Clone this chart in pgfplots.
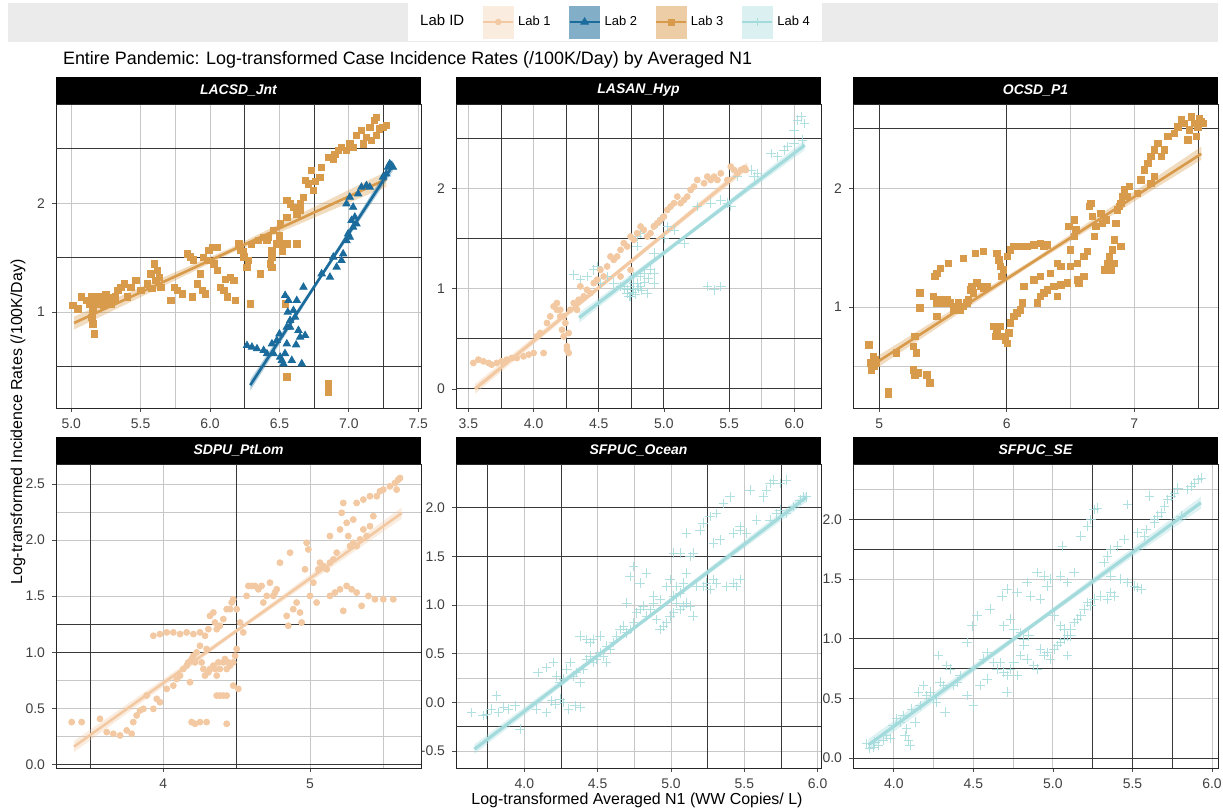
\documentclass[border=0pt]{standalone}
\usepackage{fontspec}
\setmainfont{Liberation Sans}
\usepackage{pgfplots}
\pgfplotsset{compat=1.18}
\definecolor{labA}{HTML}{F2C9A2}
\definecolor{labB}{HTML}{1B6C9C}
\definecolor{labC}{HTML}{D89A4B}
\definecolor{labD}{HTML}{A3DADC}
\pgfkeys{/pgf/number format/assume math mode=true}
\pgfplotsset{
  panel/.style={
    scale only axis, width=182.5bp, height=152bp, anchor=north west,
    axis line style={black!85, line width=0.5pt},
    tick align=outside, tick pos=left,
    major tick length=2bp, minor tick length=0pt,
    tick style={black!70, line width=0.4pt},
    ticklabel style={font=\fontsize{7}{8}\selectfont, text=black!75},
    xmajorgrids, ymajorgrids, xminorgrids, yminorgrids,
    major grid style={black!22, line width=0.45pt},
    minor grid style={black!22, line width=0.45pt},
    extra tick style={grid=major, major grid style={black!78, line width=0.45pt}, major tick length=0pt},
    extra x tick labels={}, extra y tick labels={},
    every axis title/.style={at={(0.5,1)}, anchor=south, fill=black, text=white,
      inner sep=0pt, minimum width=182.5bp, minimum height=13.5bp,
      font=\fontsize{7}{8}\selectfont\bfseries\itshape},
  },
  dx/.style={x tick label style={/pgf/number format/fixed, /pgf/number format/fixed zerofill, /pgf/number format/precision=1}},
  dy/.style={y tick label style={/pgf/number format/fixed, /pgf/number format/fixed zerofill, /pgf/number format/precision=1}},
  pA/.style={only marks, mark=*, mark size=1.5bp, color=labA, forget plot},
  pB/.style={only marks, mark=triangle*, mark size=2.1bp, color=labB, forget plot},
  pC/.style={only marks, mark=square*, mark size=1.6bp, color=labC, forget plot},
  pD/.style={only marks, mark=+, mark size=2.4bp, color=labD, line width=0.35pt, opacity=0.85, forget plot},
  rib/.style={draw=none, fill=#1, fill opacity=0.35, forget plot},
  fit/.style={color=#1, line width=1.3bp, forget plot},
}
\begin{document}
\begin{tikzpicture}
\useasboundingbox (0,0) rectangle (611.5bp,-405.5bp);
\fill[black!8] (4bp,-1.5bp) rectangle (609bp,-21bp);
\node[anchor=west, font=\fontsize{9}{11}\selectfont] at (28bp,-30bp) {Entire Pandemic: Log-transformed Case Incidence Rates (/100K/Day) by Averaged N1};
\node[rotate=90, font=\fontsize{8}{10}\selectfont] at (9bp,-211bp) {Log-transformed Incidence Rates (/100K/Day)};
\node[font=\fontsize{8}{10}\selectfont] at (318.5bp,-400bp) {Log-transformed Averaged N1 (WW Copies/ L)};

% ---------------- Panel 1: LACSD_Jnt
\begin{axis}[panel, dx, at={(28bp,-52bp)}, xmin=4.89, xmax=7.52, ymin=0.12, ymax=2.91,
  xtick={5,5.5,6,6.5,7,7.5}, ytick={1,2}, minor xtick={5.75}, minor ytick={},
  extra x ticks={6.25,6.75,7.25}, extra y ticks={0.5,1.5,2.5}, title={LACSD\_Jnt},
  legend columns=5,
  legend style={at={(1.5315,1.2697)}, anchor=center, draw=none, fill=white,
    inner xsep=4bp, inner ysep=1.5bp, font=\fontsize{6.5}{8}\selectfont,
    /tikz/every even column/.append style={column sep=7bp}},
  legend cell align=left]
\addplot[pC] coordinates {
(5.012,1.061)(5.048,1.031)(5.072,1.138)(5.108,1.107)(5.131,1.076)(5.143,1.138)(5.155,1.015)(5.155,0.893)
(5.167,0.801)(5.179,1.076)(5.191,1.138)(5.215,1.107)(5.239,1.138)(5.263,1.107)(5.287,1.076)(5.311,1.107)
(5.335,1.199)(5.358,1.229)(5.382,1.260)(5.406,1.138)(5.430,1.229)(5.466,1.291)(5.502,1.199)(5.550,1.260)
(5.573,1.352)(5.597,1.443)(5.609,1.291)(5.621,1.382)(5.633,1.321)(5.645,1.229)(5.717,1.107)(5.741,1.229)
(5.765,1.199)(5.800,1.168)(5.836,1.535)(5.860,1.505)(5.872,1.138)(5.908,1.260)(5.932,1.352)(5.944,1.199)
(5.968,1.168)(5.980,1.474)(5.992,1.566)(6.016,1.596)(6.027,1.443)(6.051,1.382)(6.051,1.596)(6.075,1.229)
(6.099,1.199)(6.123,1.138)(6.147,1.321)(6.171,1.291)(6.183,1.107)(6.207,1.627)(6.219,1.566)(6.243,1.505)
(6.266,1.413)(6.278,1.474)(6.290,1.076)(6.350,1.657)(6.362,1.352)(6.386,1.688)(6.410,1.657)(6.422,1.688)
(6.434,1.443)(6.446,1.566)(6.458,1.749)(6.481,1.627)(6.505,1.810)(6.529,1.627)(6.553,1.872)(6.553,2.024)
(6.577,1.994)(6.601,1.963)(6.625,1.902)(6.649,1.933)(6.673,2.055)(6.685,2.208)(6.708,2.177)(6.732,2.300)
(6.744,2.116)(6.792,2.239)(6.804,2.330)(6.852,2.422)(6.888,2.407)(6.924,2.483)(6.947,2.514)(6.983,2.483)
(7.007,2.544)(7.031,2.514)(7.055,2.621)(7.091,2.667)(7.103,2.544)(7.127,2.606)(7.151,2.697)(7.163,2.575)
(7.186,2.758)(7.198,2.789)(7.222,2.682)(7.246,2.697)(7.270,2.713)(6.553,0.404)(6.852,0.343)(6.852,0.266)
(6.541,1.076)(6.553,1.627)(6.625,1.627)(6.446,1.505)(6.446,1.413)(5.200,1.090)(5.230,1.060)(5.270,1.130)
(5.150,0.950)(5.160,1.050)(5.250,1.160)(5.320,1.140)(5.580,1.220)(5.880,1.480)(5.950,1.500)(6.110,1.300)
(6.240,1.560)(6.300,1.620)(6.500,1.700)(6.520,1.560)(6.650,2.000)(6.760,2.200)(6.900,2.450)(7.200,2.620)
};
\addplot[pB] coordinates {
(6.266,0.694)(6.302,0.679)(6.338,0.664)(6.386,0.648)(6.410,0.618)(6.446,0.709)(6.458,0.618)(6.481,0.740)
(6.505,0.587)(6.517,0.557)(6.529,0.526)(6.541,1.153)(6.553,0.709)(6.565,1.107)(6.577,0.862)(6.589,0.557)
(6.601,1.015)(6.613,0.954)(6.625,1.107)(6.637,0.832)(6.649,0.771)(6.661,0.526)(6.673,1.229)(6.685,0.786)
(6.553,0.862)(6.577,0.924)(6.804,1.352)(6.864,1.321)(6.888,1.505)(6.912,1.413)(6.947,1.474)(6.959,1.535)
(6.983,1.657)(6.995,1.719)(7.007,1.688)(7.019,1.841)(7.031,1.780)(7.043,1.872)(7.055,1.810)(6.983,1.994)
(7.007,2.055)(7.031,1.963)(7.067,2.086)(7.091,2.147)(7.127,2.162)(7.151,2.147)(7.246,2.239)(7.270,2.269)
(7.282,2.330)(7.294,2.361)(7.306,2.346)(7.318,2.330)(6.500,0.800)(6.560,1.000)(6.620,0.700)(6.540,0.620)
};
\addplot[rib=labC] coordinates {(5.02,0.96)(6.15,1.59)(7.27,2.29)(7.27,2.15)(6.15,1.54)(5.02,0.84)} -- cycle;
\addplot[fit=labC] coordinates {(5.02,0.90)(7.27,2.22)};
\addplot[rib=labB] coordinates {(6.29,0.38)(6.80,1.35)(7.32,2.40)(7.32,2.30)(6.80,1.31)(6.29,0.28)} -- cycle;
\addplot[fit=labB] coordinates {(6.29,0.33)(7.32,2.35)};
\addlegendimage{empty legend}
\addlegendentry{\fontsize{7.5}{9}\selectfont Lab ID}
\addlegendimage{legend image code/.code={
  \fill[labA!35] (0bp,-8bp) rectangle (15bp,8bp);
  \draw[labA, line width=1pt] (0bp,0bp) -- (15bp,0bp);
  \fill[labA] (7.5bp,0bp) circle (1.4bp);}}
\addlegendentry{Lab 1}
\addlegendimage{legend image code/.code={
  \fill[labB!55] (0bp,-8bp) rectangle (15bp,8bp);
  \draw[labB, line width=1pt] (0bp,0bp) -- (15bp,0bp);
  \fill[labB] (7.5bp,2.1bp) -- (5.6bp,-1.05bp) -- (9.4bp,-1.05bp) -- cycle;}}
\addlegendentry{Lab 2}
\addlegendimage{legend image code/.code={
  \fill[labC!50] (0bp,-8bp) rectangle (15bp,8bp);
  \draw[labC, line width=1pt] (0bp,0bp) -- (15bp,0bp);
  \fill[labC] (6bp,-1.5bp) rectangle (9bp,1.5bp);}}
\addlegendentry{Lab 3}
\addlegendimage{legend image code/.code={
  \fill[labD!40] (0bp,-8bp) rectangle (15bp,8bp);
  \draw[labD, line width=1pt] (0bp,0bp) -- (15bp,0bp);
  \draw[labD, line width=0.4pt] (5.5bp,0bp) -- (9.5bp,0bp) (7.5bp,-2bp) -- (7.5bp,2bp);}}
\addlegendentry{Lab 4}
\end{axis}

% ---------------- Panel 2: LASAN_Hyp
\begin{axis}[panel, dx, at={(228bp,-52bp)}, xmin=3.405, xmax=6.205, ymin=-0.19, ymax=2.84,
  xtick={3.5,4,4.5,5,5.5,6}, ytick={0,1,2}, minor xtick={5.75}, minor ytick={},
  extra x ticks={3.75,4.25,4.5,4.75,5,5.5}, extra y ticks={0,0.5,1.5,2.5}, title={LASAN\_Hyp}]
\addplot[pD] coordinates {
(4.308,1.138)(4.359,1.088)(4.410,1.121)(4.462,1.187)(4.487,1.221)(4.513,1.055)(4.564,1.121)(4.615,1.055)
(4.667,1.022)(4.718,0.955)(4.744,0.922)(4.769,0.988)(4.795,1.055)(4.821,1.121)(4.846,1.154)(4.897,1.187)
(4.923,1.154)(4.769,1.121)(4.795,1.519)(4.821,1.552)(4.949,1.652)(4.974,1.685)(5.026,1.619)(5.077,1.585)
(5.154,1.453)(5.256,1.818)(5.359,1.851)(5.436,1.884)(5.487,1.851)(5.513,1.818)(5.564,2.116)(5.667,2.182)
(5.718,2.149)(5.872,2.315)(5.949,2.415)(6.000,2.580)(6.026,2.680)(6.051,2.713)(6.077,2.647)(6.064,2.481)
(6.000,2.448)(5.333,1.022)(5.385,0.988)(5.436,1.022)(4.769,1.055)(4.821,1.022)(4.923,1.353)(4.795,1.420)
(4.718,0.988)(4.872,0.955)(4.731,0.922)(4.923,1.055)(5.821,2.348)(5.923,2.381)(5.692,2.116)(5.000,1.500)
(4.780,0.940)(4.800,1.000)(4.830,0.980)(4.850,1.060)(4.880,1.100)(4.760,0.960)(4.740,1.020)(4.700,1.000)
};
\addplot[pA] coordinates {
(3.538,0.259)(3.577,0.292)(3.615,0.275)(3.654,0.259)(3.679,0.242)(3.718,0.259)(3.756,0.275)(3.795,0.292)
(3.833,0.308)(3.872,0.308)(3.923,0.325)(3.962,0.342)(4.000,0.358)(4.026,0.524)(4.051,0.557)(4.077,0.358)
(4.103,0.657)(4.128,0.723)(4.154,0.823)(4.179,0.856)(4.205,0.789)(4.218,0.590)(4.231,0.524)(4.244,0.657)
(4.256,0.425)(4.269,0.557)(4.282,0.789)(4.308,0.856)(4.333,0.789)(4.346,0.889)(4.359,1.022)(4.385,0.922)
(4.410,0.988)(4.436,0.955)(4.462,1.055)(4.487,1.088)(4.513,1.187)(4.538,1.121)(4.564,1.221)(4.590,1.320)
(4.615,1.287)(4.641,1.320)(4.667,1.386)(4.692,1.453)(4.718,1.420)(4.744,1.519)(4.769,1.486)(4.795,1.552)
(4.821,1.619)(4.846,1.585)(4.872,1.519)(4.897,1.552)(4.923,1.619)(4.949,1.652)(4.974,1.685)(5.000,1.718)
(5.026,1.784)(5.051,1.818)(5.077,1.851)(5.103,1.917)(5.128,1.851)(5.154,1.884)(5.179,1.917)(5.205,1.983)
(5.231,2.017)(5.256,2.083)(5.308,2.050)(5.333,2.116)(5.359,2.083)(5.385,2.116)(5.410,2.083)(5.436,2.149)
(5.487,2.083)(5.513,2.216)(5.538,2.182)(5.564,2.149)(5.590,2.182)(5.615,2.199)(5.628,2.182)(4.179,0.789)
(4.205,0.723)(4.231,0.723)(4.269,0.358)(4.256,0.391)(4.667,1.121)(4.744,1.187)
};
\addplot[rib=labA] coordinates {(3.55,0.05)(4.60,1.135)(5.64,2.26)(5.64,2.18)(4.60,1.095)(3.55,-0.05)} -- cycle;
\addplot[fit=labA, line width=1.6bp] coordinates {(3.55,0.0)(5.64,2.22)};
\addplot[rib=labD] coordinates {(4.35,0.76)(5.20,1.575)(6.08,2.48)(6.08,2.38)(5.20,1.535)(4.35,0.66)} -- cycle;
\addplot[fit=labD, line width=1.6bp] coordinates {(4.35,0.71)(6.08,2.43)};
\end{axis}

% ---------------- Panel 3: OCSD_P1
\begin{axis}[panel, at={(426.5bp,-52bp)}, xmin=4.795, xmax=7.656, ymin=0.151, ymax=2.709,
  xtick={5,6,7}, ytick={1,2}, minor xtick={6.5}, minor ytick={0.5},
  extra x ticks={5,6,7.5}, extra y ticks={2.5}, title={OCSD\_P1}]
\addplot[pC] coordinates {
(4.921,0.683)(4.932,0.529)(4.940,0.473)(4.953,0.585)(4.958,0.501)(4.966,0.557)(4.979,0.529)(5.071,0.291)
(5.071,0.263)(5.136,0.613)(5.268,0.669)(5.281,0.754)(5.268,0.473)(5.281,0.431)(5.307,0.445)(5.294,0.613)
(5.373,0.431)(5.399,0.361)(5.320,1.118)(5.320,0.992)(5.451,0.922)(5.425,1.090)(5.438,1.258)(5.451,1.286)
(5.478,1.328)(5.543,1.370)(5.661,1.412)(5.753,1.454)(5.819,1.468)(5.451,1.034)(5.478,1.062)(5.504,1.034)
(5.530,1.062)(5.556,1.034)(5.583,0.978)(5.609,1.006)(5.622,1.034)(5.635,0.978)(5.661,1.006)(5.688,1.034)
(5.701,1.062)(5.714,1.146)(5.727,1.174)(5.740,1.118)(5.766,1.202)(5.793,1.174)(5.819,1.160)(5.845,1.174)
(5.898,0.838)(5.911,0.754)(5.924,0.810)(5.950,0.838)(5.963,0.754)(5.990,0.725)(6.003,0.697)(6.016,0.782)
(6.029,0.866)(6.055,0.922)(6.081,0.950)(6.108,0.978)(6.121,1.034)(5.924,1.454)(5.937,1.398)(5.950,1.342)
(5.963,1.258)(5.976,1.314)(6.003,1.426)(6.029,1.482)(6.055,1.510)(6.108,1.510)(6.160,1.510)(6.213,1.524)
(6.265,1.538)(6.291,1.510)(6.318,1.524)(6.134,1.174)(6.213,1.230)(6.265,1.258)(6.344,1.286)(6.396,1.370)
(6.423,1.342)(6.239,1.034)(6.265,1.090)(6.291,1.118)(6.318,1.146)(6.370,1.174)(6.396,1.090)(6.423,1.188)
(6.475,1.202)(6.488,1.678)(6.501,1.482)(6.528,1.594)(6.541,1.650)(6.554,1.370)(6.554,1.230)(6.567,1.202)
(6.606,1.426)(6.633,1.468)(6.646,1.846)(6.659,1.874)(6.672,1.762)(6.698,1.678)(6.738,1.790)(6.751,1.706)
(6.777,1.734)(6.764,1.314)(6.790,1.370)(6.803,1.426)(6.829,1.482)(6.843,1.566)(6.856,1.706)(6.869,1.818)
(6.882,1.846)(6.895,1.874)(6.908,1.930)(6.921,1.986)(6.948,1.930)(6.895,1.510)(6.961,2.014)(7.052,2.070)
(7.079,2.154)(7.105,2.210)(7.131,2.266)(7.157,2.322)(7.184,2.378)(7.210,2.266)(7.236,2.322)(7.262,2.434)
(7.315,2.462)(7.341,2.518)(7.367,2.574)(7.394,2.546)(7.420,2.406)(7.433,2.490)(7.446,2.602)(7.472,2.546)
(7.486,2.434)(7.499,2.518)(7.512,2.588)(7.525,2.560)(7.538,2.546)(7.026,1.958)(7.131,2.042)(7.157,2.098)
(6.843,1.370)(6.816,1.314)(6.685,1.594)(6.528,1.734)(6.501,1.342)(6.606,1.258)
};
\addplot[rib=labC] coordinates {(4.93,0.55)(6.20,1.396)(7.525,2.35)(7.525,2.24)(6.20,1.356)(4.93,0.45)} -- cycle;
\addplot[fit=labC] coordinates {(4.93,0.50)(7.525,2.29)};
\end{axis}

% ---------------- Panel 4: SDPU_PtLom
\begin{axis}[panel, dy, at={(28bp,-232bp)}, xmin=3.268, xmax=5.757, ymin=-0.03, ymax=2.678,
  xtick={4,5}, ytick={0,0.5,1,1.5,2,2.5}, minor xtick={5.5}, minor ytick={0.25,0.75,2.25},
  extra x ticks={3.5,4.5}, extra y ticks={0,1,1.25}, title={SDPU\_PtLom}]
\addplot[pA] coordinates {
(3.375,0.379)(3.443,0.379)(3.568,0.408)(3.614,0.290)(3.659,0.275)(3.705,0.260)(3.750,0.305)(3.784,0.275)
(3.795,0.379)(3.818,0.438)(3.841,0.482)(3.864,0.497)(3.886,0.615)(3.932,0.497)(3.977,0.556)(3.955,0.586)
(4.023,0.675)(4.068,0.704)(4.091,0.763)(4.114,0.793)(4.136,0.852)(4.159,0.882)(4.170,0.911)(4.182,0.734)
(4.193,0.941)(4.205,0.970)(4.216,0.911)(4.227,1.000)(4.250,1.059)(4.261,0.911)(4.273,0.852)(4.284,0.793)
(4.295,1.030)(4.307,0.822)(4.318,0.852)(4.341,0.882)(4.352,0.852)(4.364,0.793)(4.375,0.911)(4.386,0.852)
(4.409,0.911)(4.420,0.941)(4.432,0.852)(4.443,0.911)(4.455,0.882)(4.477,0.911)(4.489,0.970)(4.500,1.030)
(4.511,0.675)(4.477,0.704)(4.364,0.615)(4.386,0.615)(4.409,0.615)(4.432,0.615)(4.193,0.379)(4.216,0.364)
(4.250,0.379)(4.295,0.379)(4.432,0.364)(3.932,1.148)(3.977,1.163)(4.023,1.178)(4.068,1.178)(4.114,1.163)
(4.159,1.178)(4.205,1.163)(4.250,1.178)(4.284,1.148)(4.307,1.207)(4.318,1.325)(4.341,1.355)(4.352,1.266)
(4.364,1.207)(4.386,1.237)(4.409,1.296)(4.432,1.385)(4.455,1.385)(4.466,1.444)(4.477,1.473)(4.500,1.385)
(4.523,1.266)(4.545,1.178)(4.568,1.503)(4.580,1.592)(4.602,1.592)(4.625,1.592)(4.648,1.562)(4.670,1.592)
(4.682,1.444)(4.705,1.503)(4.727,1.621)(4.750,1.503)(4.761,1.533)(4.773,1.562)(4.795,1.799)(4.841,1.325)
(4.852,1.237)(4.864,1.888)(4.886,1.385)(4.909,1.444)(4.932,1.355)(4.943,1.266)(4.966,1.740)(4.977,1.976)
(4.989,1.917)(5.000,1.503)(5.023,1.621)(5.045,1.444)(5.057,1.740)(5.068,1.799)(5.091,1.769)(5.114,1.740)
(5.136,1.799)(5.159,1.828)(5.182,1.888)(5.205,2.095)(5.216,2.243)(5.227,2.331)(5.250,2.154)(5.261,2.036)
(5.273,1.947)(5.295,1.976)(5.318,1.947)(5.341,2.006)(5.364,2.095)(5.386,2.036)(5.409,2.124)(5.432,2.213)
(5.455,2.391)(5.477,2.435)(5.500,2.450)(5.545,2.479)(5.580,2.509)(5.602,2.538)(5.614,2.553)(5.591,2.450)
(5.136,1.503)(5.170,1.533)(5.205,1.562)(5.227,1.370)(5.250,1.592)(5.284,1.562)(5.318,1.533)(5.352,1.414)
(5.398,1.503)(5.443,1.473)(5.500,1.473)(5.568,1.473)(5.295,2.183)(5.318,2.331)(5.364,2.361)(5.409,2.391)
(5.136,2.036)
};
\addplot[rib=labA] coordinates {(3.39,0.21)(4.50,1.213)(5.625,2.29)(5.625,2.19)(4.50,1.173)(3.39,0.11)} -- cycle;
\addplot[fit=labA] coordinates {(3.39,0.16)(5.625,2.24)};
\end{axis}

% ---------------- Panel 5: SFPUC_Ocean
\begin{axis}[panel, dx, dy, at={(228bp,-232bp)}, xmin=3.534, xmax=6.023, ymin=-0.674, ymax=2.45,
  xtick={4,4.5,5,5.5,6}, ytick={-0.5,0,0.5,1,1.5,2}, minor xtick={4.75}, minor ytick={0.25},
  extra x ticks={3.75,4.25,5.25,5.75}, extra y ticks={-0.25,1.5,2}, title={SFPUC\_Ocean}]
\addplot[pD] coordinates {
(3.641,-0.102)(3.720,-0.136)(3.743,-0.119)(3.777,-0.068)(3.811,0.068)(3.823,-0.102)(3.857,-0.051)(3.891,-0.068)
(3.936,-0.034)(4.084,-0.068)(4.152,-0.102)(4.186,0.017)(4.209,-0.017)(4.243,0.034)(4.266,0.000)(4.300,-0.068)
(4.345,-0.034)(4.380,-0.051)(4.095,0.307)(4.152,0.358)(4.198,0.409)(4.220,0.273)(4.243,0.205)(4.266,0.239)
(4.289,0.341)(4.311,0.409)(4.334,0.273)(4.357,0.307)(4.380,0.205)(4.402,0.341)(4.425,0.443)(4.448,0.477)
(4.470,0.409)(4.493,0.443)(4.516,0.511)(4.539,0.477)(4.561,0.409)(4.584,0.546)(4.380,0.682)(4.425,0.648)
(4.448,0.614)(4.470,0.648)(4.516,0.682)(4.561,0.580)(4.607,0.614)(4.630,0.682)(4.652,0.750)(4.675,0.784)
(4.698,0.716)(4.720,0.750)(4.743,0.818)(4.766,0.921)(4.789,0.955)(4.811,0.989)(4.834,0.886)(4.857,0.955)
(4.880,1.023)(4.902,0.852)(4.925,0.750)(4.948,0.784)(4.970,0.818)(4.993,0.886)(5.016,0.921)(5.039,1.023)
(5.061,0.955)(5.084,0.989)(5.107,1.023)(5.130,0.989)(5.152,0.886)(4.698,1.023)(4.720,1.296)(4.743,1.398)
(4.789,1.227)(4.834,1.330)(4.880,1.091)(4.925,1.057)(4.970,1.193)(4.993,1.262)(5.016,1.091)(5.039,1.193)
(5.061,1.125)(5.084,1.227)(5.107,1.330)(5.130,1.500)(5.175,1.193)(5.220,1.193)(5.243,1.227)(5.266,1.159)
(5.289,1.262)(5.311,1.227)(5.380,1.193)(5.425,1.227)(5.448,1.193)(5.470,1.262)(5.016,1.534)(5.061,1.534)
(5.107,1.739)(5.152,1.534)(5.198,1.773)(5.220,1.841)(5.266,1.909)(5.311,1.943)(5.357,2.046)(5.402,2.114)
(5.470,1.773)(5.516,1.739)(5.539,2.182)(5.630,2.114)(5.652,2.182)(5.675,2.250)(5.698,2.284)(5.743,2.250)
(5.789,2.284)(5.789,1.943)(5.834,2.012)(5.880,2.080)(5.902,2.114)(5.925,2.114)(5.675,1.875)(5.720,1.943)
(5.743,1.977)(5.584,1.875)(5.289,1.637)(5.334,1.671)(5.425,1.739)(3.970,-0.273)(5.470,1.807)
};
\addplot[rib=labD] coordinates {(3.66,-0.43)(4.80,0.844)(5.925,2.16)(5.925,2.06)(4.80,0.804)(3.66,-0.53)} -- cycle;
\addplot[fit=labD, line width=1.6bp] coordinates {(3.66,-0.48)(5.925,2.11)};
\end{axis}

% ---------------- Panel 6: SFPUC_SE
\begin{axis}[panel, dx, dy, at={(426.5bp,-232bp)}, xmin=3.743, xmax=6.038, ymin=-0.084, ymax=2.465,
  xtick={4,4.5,5,5.5,6}, ytick={0,0.5,1,1.5,2}, minor xtick={4.25,4.75}, minor ytick={2.25},
  extra x ticks={5.25,5.5,5.75}, extra y ticks={0,0.75,1,1.75,2}, title={SFPUC\_SE}]
\addplot[pD] coordinates {
(3.827,0.120)(3.848,0.078)(3.869,0.092)(3.880,0.134)(3.901,0.106)(3.933,0.148)(3.954,0.189)(3.975,0.162)
(3.996,0.273)(4.017,0.329)(4.038,0.301)(4.059,0.357)(4.080,0.245)(4.069,0.189)(4.091,0.148)(4.101,0.106)
(4.112,0.412)(4.133,0.301)(4.154,0.552)(4.164,0.440)(4.185,0.607)(4.206,0.524)(4.227,0.552)(4.248,0.496)
(4.269,0.468)(4.280,0.858)(4.291,0.635)(4.312,0.607)(4.322,0.384)(4.333,0.774)(4.354,0.747)(4.375,0.607)
(4.396,0.635)(4.417,0.691)(4.459,0.969)(4.491,1.109)(4.522,1.192)(4.564,0.830)(4.585,0.886)(4.606,1.248)
(4.627,0.802)(4.648,0.747)(4.669,0.802)(4.691,0.719)(4.712,0.691)(4.733,0.747)(4.754,0.802)(4.775,0.691)
(4.796,0.858)(4.817,0.942)(4.838,0.830)(4.880,0.774)(4.901,0.747)(4.922,0.914)(4.943,0.858)(4.964,0.886)
(4.985,0.830)(5.006,0.914)(5.027,0.942)(5.048,0.969)(5.069,1.081)(5.091,0.858)(5.112,1.025)(5.133,1.136)
(5.154,1.164)(5.175,1.192)(5.196,1.248)(5.217,1.304)(5.238,1.276)(5.259,1.331)(5.301,1.359)(5.343,1.331)
(5.364,1.387)(5.385,1.359)(5.427,1.499)(5.469,1.471)(5.512,1.443)(5.533,1.429)(5.554,1.415)(4.680,1.359)
(4.712,1.415)(4.775,1.387)(4.838,1.471)(4.859,1.359)(4.901,1.554)(4.943,1.526)(4.985,1.499)(5.048,1.526)
(5.091,1.471)(5.133,1.554)(4.691,1.109)(4.733,1.164)(4.754,1.081)(4.796,1.053)(4.817,0.997)(4.848,1.025)
(4.922,1.331)(4.964,1.443)(5.006,1.192)(5.048,1.109)(5.069,0.997)(5.091,1.025)(5.112,1.081)(5.059,1.777)
(5.175,1.861)(5.217,1.944)(5.238,2.000)(5.259,2.084)(5.280,2.097)(5.322,1.638)(5.343,1.694)(5.364,1.749)
(5.406,1.777)(5.448,1.833)(5.469,2.125)(5.533,1.889)(5.585,1.916)(5.606,2.195)(5.638,1.972)(5.659,2.028)
(5.680,2.056)(5.701,2.111)(5.722,2.167)(5.743,2.195)(5.764,2.223)(5.785,2.265)(5.806,2.028)(5.848,2.251)
(5.869,2.279)(5.891,2.306)(5.912,2.334)(5.933,2.348)(5.638,2.000)(5.575,1.861)(5.364,1.526)(4.459,0.524)
(4.501,0.440)(4.543,0.607)(4.585,0.663)(4.712,0.552)
};
\addplot[rib=labD] coordinates {(3.84,0.16)(4.90,1.16)(5.93,2.19)(5.93,2.09)(4.90,1.12)(3.84,0.06)} -- cycle;
\addplot[fit=labD, line width=1.6bp] coordinates {(3.84,0.11)(5.93,2.14)};
\end{axis}
\end{tikzpicture}
\end{document}
